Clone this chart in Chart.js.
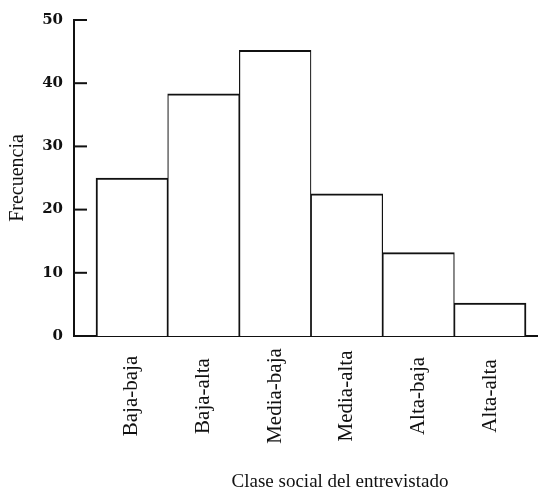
<!DOCTYPE html>
<html lang="es">
<head>
<meta charset="utf-8">
<title>Frecuencia por clase social</title>
<script src="https://cdn.jsdelivr.net/npm/chart.js@4.4.1/dist/chart.umd.min.js"></script>
<style>
  html, body { margin: 0; padding: 0; background: #fff; }
  #wrap { position: relative; width: 538px; height: 492px; }
</style>
</head>
<body>
<div id="wrap"><canvas id="chart"></canvas></div>
<script>
// --- Data ---
const clases = ['Baja-baja', 'Baja-alta', 'Media-baja', 'Media-alta', 'Alta-baja', 'Alta-alta'];
const frecuencias = [25, 38.3, 45.2, 22.5, 13.2, 5.2];
const yTicks = [0, 10, 20, 30, 40, 50];
const xTitle = 'Clase social del entrevistado';
const yTitle = 'Frecuencia';

const serif = "'Liberation Serif', 'Times New Roman', serif";
const numFont = "'DejaVu Serif', serif";
const ink = '#111';

// inner tick marks, rotated class labels and the x title
const extrasPlugin = {
  id: 'extras',
  afterDraw(chart) {
    const { ctx, chartArea, scales } = chart;
    const x = scales.x, y = scales.y;
    ctx.save();
    ctx.strokeStyle = ink;
    ctx.lineWidth = 2;
    yTicks.forEach(v => {
      if (v === 0) return;
      const py = y.getPixelForValue(v);
      ctx.beginPath();
      ctx.moveTo(chartArea.left, py);
      ctx.lineTo(chartArea.left + 13, py);
      ctx.stroke();
    });

    ctx.fillStyle = ink;
    ctx.font = '21px ' + serif;
    ctx.textAlign = 'center';
    ctx.textBaseline = 'middle';
    clases.forEach((c, i) => {
      ctx.save();
      ctx.translate(x.getPixelForValue(i), 396);
      ctx.rotate(-Math.PI / 2);
      ctx.fillText(c, 0, 0);
      ctx.restore();
    });

    ctx.font = '19px ' + serif;
    ctx.textBaseline = 'alphabetic';
    ctx.fillText(xTitle, 340, 487);
    ctx.restore();
  }
};

const lastIdx = frecuencias.length - 1;

new Chart(document.getElementById('chart'), {
  type: 'bar',
  data: {
    datasets: [{
      label: yTitle,
      data: frecuencias.map((v, i) => ({ x: i, y: v })),
      backgroundColor: '#fff',
      borderColor: ink,
      borderWidth: ctx => ({
        top: 2,
        bottom: 0,
        left: ctx.dataIndex === 0 ? 2 : 1.2,
        right: ctx.dataIndex === lastIdx ? 2 : 1.2
      }),
      borderSkipped: false,
      barPercentage: 1,
      categoryPercentage: 1
    }]
  },
  options: {
    responsive: true,
    maintainAspectRatio: false,
    animation: false,
    layout: { padding: { top: 18, left: 0, right: 0, bottom: 0 } },
    plugins: { legend: { display: false }, tooltip: { enabled: false } },
    scales: {
      x: {
        type: 'linear',
        offset: false,
        min: -0.807,
        max: 5.667,
        afterBuildTicks: scale => { scale.ticks = clases.map((_, i) => ({ value: i })); },
        afterFit: scale => { scale.height = 156; },
        grid: { display: false, drawTicks: false, offset: false },
        ticks: { display: false },
        border: { display: true, color: ink, width: 2 }
      },
      y: {
        min: 0,
        max: 50,
        afterBuildTicks: scale => { scale.ticks = yTicks.map(v => ({ value: v })); },
        afterFit: scale => { scale.width = 74; },
        grid: { display: false, drawTicks: false },
        border: { display: true, color: ink, width: 2 },
        ticks: {
          padding: 11,
          color: ink,
          font: { family: numFont, size: 15, weight: 'bold' }
        },
        title: {
          display: true,
          text: yTitle,
          color: ink,
          padding: { top: 6, bottom: 0 },
          font: { family: serif, size: 20 }
        }
      }
    }
  },
  plugins: [extrasPlugin]
});
</script>
</body>
</html>
